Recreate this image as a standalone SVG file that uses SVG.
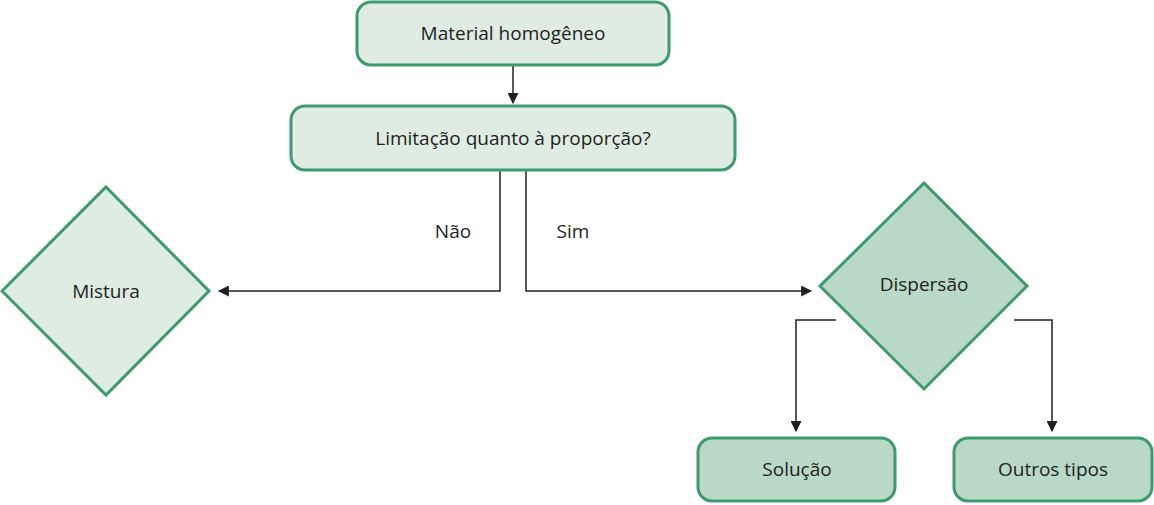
<svg xmlns="http://www.w3.org/2000/svg" width="1154" height="505" viewBox="0 0 1154 505">
<style>
.n{stroke:#3d9a6f;stroke-width:3}
.l{fill:#dfece4}
.d{fill:#b9d8c6}
.t{font-family:"Open Sans","Liberation Sans",sans-serif;font-size:19px;fill:#231f20;text-anchor:middle;dominant-baseline:central}
.c{fill:none;stroke:#231f20;stroke-width:1.5}
</style>
<defs><marker id="a" viewBox="0 0 10 10" refX="9" refY="5" markerWidth="11" markerHeight="11" markerUnits="userSpaceOnUse" orient="auto"><path d="M0,0L10,5L0,10z" fill="#231f20"/></marker></defs>
<rect width="1154" height="505" fill="#fff"/>
<g id="connectors">
<path class="c" d="M513,66V103" marker-end="url(#a)"/>
<path class="c" d="M500,171V291H219" marker-end="url(#a)"/>
<path class="c" d="M526,171V291H811" marker-end="url(#a)"/>
<path class="c" d="M836,320H796V431" marker-end="url(#a)"/>
<path class="c" d="M1014,320H1052V431" marker-end="url(#a)"/>
<text class="t" x="453" y="231">Não</text>
<text class="t" x="573" y="231">Sim</text>
</g>
<g id="material"><rect class="n l" x="357" y="2" width="312" height="63" rx="14"/><text class="t" x="513" y="33">Material homogêneo</text></g>
<g id="limitacao"><rect class="n l" x="291" y="106" width="444" height="64" rx="14"/><text class="t" x="513" y="138">Limitação quanto à proporção?</text></g>
<g id="mistura"><path class="n l" d="M106,187L209,291L106,395L2,291Z"/><text class="t" x="106" y="291">Mistura</text></g>
<g id="dispersao"><path class="n d" d="M924,183L1027,286L924,389L820,286Z"/><text class="t" x="924" y="284">Dispersão</text></g>
<g id="solucao"><rect class="n d" x="698" y="438" width="197" height="63" rx="14"/><text class="t" x="797" y="469">Solução</text></g>
<g id="outros"><rect class="n d" x="954" y="438" width="198" height="63" rx="14"/><text class="t" x="1053" y="469">Outros tipos</text></g>
</svg>
